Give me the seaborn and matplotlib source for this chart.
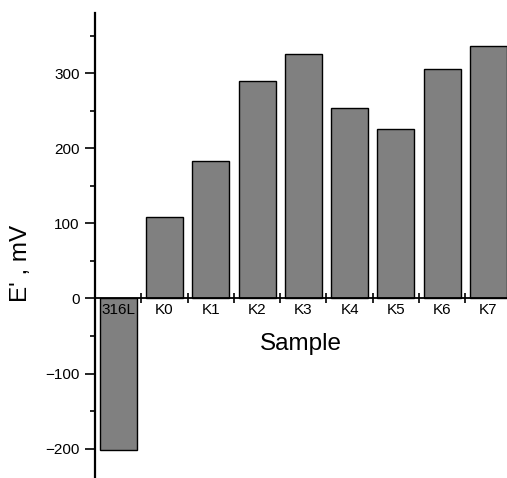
import matplotlib
matplotlib.use("Agg")
import matplotlib.pyplot as plt
from matplotlib.ticker import MultipleLocator, FixedLocator
import seaborn as sns
import pandas as pd

samples = ["316L", "K0", "K1", "K2", "K3", "K4", "K5", "K6", "K7"]
e_prime_mv = [-202, 109, 183, 289, 326, 254, 225, 306, 336]

sns.set_style("white")
plt.rcParams["font.family"] = ["Liberation Sans", "DejaVu Sans"]
plt.rcParams["text.color"] = "black"
plt.rcParams["axes.labelcolor"] = "black"

df = pd.DataFrame({"Sample": samples, "E": e_prime_mv})

fig = plt.figure(figsize=(5.07, 4.78), dpi=100)
ax = fig.add_axes([95 / 507, 1 / 478, 412 / 507, 464 / 478])

sns.barplot(data=df, x="Sample", y="E", color="#808080", saturation=1,
            edgecolor="black", linewidth=1.0, width=0.8, ax=ax)
ax.set_axisbelow(False)

ax.set_xlim(-0.5, 8.4)
ax.set_ylim(-237.7, 380)

for side in ("top", "right"):
    ax.spines[side].set_visible(False)
ax.spines["bottom"].set_position(("data", 0))
ax.spines["left"].set_linewidth(1.6)
ax.spines["bottom"].set_linewidth(1.3)
ax.spines["left"].set_color("black")
ax.spines["bottom"].set_color("black")

# y axis: labelled ticks every 100, minor every 50
ax.yaxis.set_major_locator(MultipleLocator(100))
ax.yaxis.set_minor_locator(MultipleLocator(50))
ax.tick_params(axis="y", which="major", direction="out", length=7, width=1.2,
               labelsize=11, pad=4, left=True, colors="black")
ax.tick_params(axis="y", which="minor", direction="out", length=3.5, width=1.2,
               left=True, colors="black")

# x axis: labels under each bar, tick marks on the boundaries between bars
ax.xaxis.set_minor_locator(FixedLocator([i + 0.5 for i in range(len(samples))]))
ax.tick_params(axis="x", which="major", length=0, labelsize=11, pad=3,
               colors="black")
ax.tick_params(axis="x", which="minor", direction="inout", length=7, width=1.2,
               bottom=True, colors="black")

ax.set_xlabel("Sample", fontsize=17.5)
ax.xaxis.set_label_coords(0.5, 1 - (344 - 13) / 464, transform=ax.transAxes)
ax.xaxis.label.set_verticalalignment("center")
ax.set_ylabel("E' , mV", fontsize=17.5)
ax.yaxis.set_label_coords(21 / 507, 1 - 263 / 478, transform=fig.transFigure)
ax.yaxis.label.set_verticalalignment("center")

fig.savefig("out.png", dpi=100)
